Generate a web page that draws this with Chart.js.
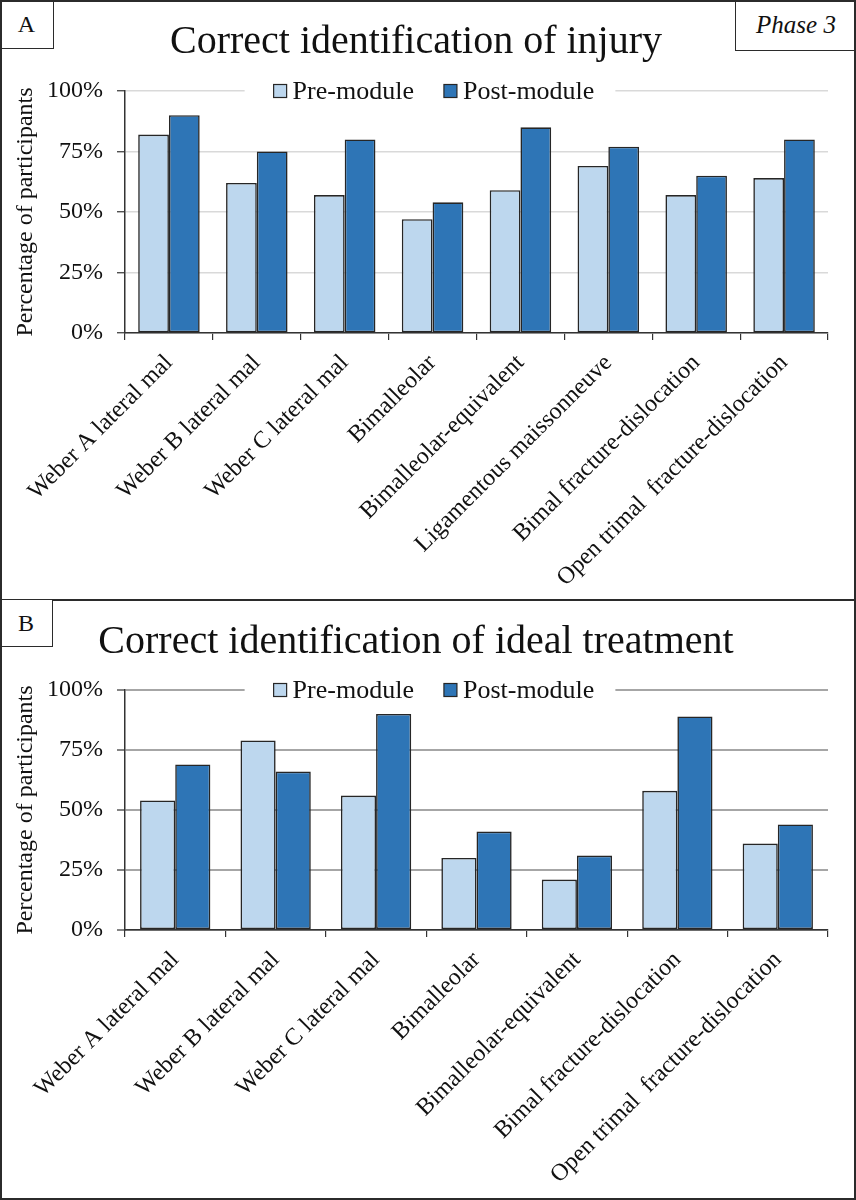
<!DOCTYPE html>
<html>
<head>
<meta charset="utf-8">
<script src="https://cdn.jsdelivr.net/npm/chart.js@4.4.1/dist/chart.umd.min.js"></script>
<style>
  html, body { margin: 0; padding: 0; background: #fff; }
  #page { position: relative; width: 856px; height: 1200px; overflow: hidden; font-family: "Liberation Serif", "Times New Roman", serif; }
  canvas { position: absolute; left: 0; }
  #cA { top: 0; }
  #cB { top: 600px; }
  .frame { position: absolute; box-sizing: border-box; border: 2px solid #2b2b2b; pointer-events: none; }
  .tag { position: absolute; box-sizing: border-box; border: 1px solid #2b2b2b; background: #fff;
         display: flex; align-items: center; justify-content: center; font-size: 24px; color: #111; }
</style>
</head>
<body>
<div id="page">
  <canvas id="cA" width="856" height="600"></canvas>
  <canvas id="cB" width="856" height="600"></canvas>
  <div class="frame" style="left:0;top:0;width:856px;height:601px"></div>
  <div class="frame" style="left:0;top:599px;width:856px;height:601px"></div>
  <div class="tag" style="left:0;top:0;width:54px;height:49px;border-width:0 1px 1px 0">A</div>
  <div class="tag" style="left:735px;top:0;width:121px;height:51px;border-width:0 0 1px 1px;font-style:italic;font-size:25px">Phase 3</div>
  <div class="tag" style="left:0;top:600px;width:53px;height:47px;border-width:0 1px 1px 0">B</div>
  <div class="frame" style="left:0;top:0;width:856px;height:1200px"></div>
</div>
<script>
// data
const injuryCats = ["Weber A lateral mal", "Weber B lateral mal", "Weber C lateral mal", "Bimalleolar",
  "Bimalleolar-equivalent", "Ligamentous maissonneuve", "Bimal fracture-dislocation", "Open trimal  fracture-dislocation"];
const injuryPre  = [82, 62, 57, 47, 59, 69, 57, 64];
const injuryPost = [90, 75, 80, 54, 85, 77, 65, 80];

const treatCats = ["Weber A lateral mal", "Weber B lateral mal", "Weber C lateral mal", "Bimalleolar",
  "Bimalleolar-equivalent", "Bimal fracture-dislocation", "Open trimal  fracture-dislocation"];
const treatPre  = [54, 79, 56, 30, 21, 58, 36];
const treatPost = [69, 66, 90, 41, 31, 89, 44];

const yTicks = [0, 25, 50, 75, 100];
const seriesNames = ["Pre-module", "Post-module"];

const FONT = '"Liberation Serif", "Times New Roman", serif';
const PRE_COLOR = "#bdd7ee";
const POST_COLOR = "#2e75b6";
const EDGE = "#262626";

// legend sits on the 100% line, with a white patch that breaks the gridline
const innerLegend = {
  id: "innerLegend",
  afterDatasetsDraw(chart) {
    const ctx = chart.ctx;
    const y = chart.chartArea.top;
    const box = 13, gap = 6, sep = 30;
    ctx.save();
    ctx.font = "26px " + FONT;
    const items = chart.data.datasets.map(ds => ({
      text: ds.label, color: ds.backgroundColor,
      w: box + gap + ctx.measureText(ds.label).width
    }));
    const total = items.reduce((s, it) => s + it.w, 0) + sep * (items.length - 1);
    let x = chart.width / 2 + 6 - total / 2;
    ctx.fillStyle = "#fff";
    ctx.fillRect(x - 29, y - 14, total + 50, 28);
    ctx.textBaseline = "middle";
    items.forEach(it => {
      ctx.fillStyle = it.color;
      ctx.fillRect(x, y - box / 2, box, box);
      ctx.strokeStyle = EDGE;
      ctx.lineWidth = 1.2;
      ctx.strokeRect(x, y - box / 2, box, box);
      ctx.fillStyle = "#111";
      ctx.fillText(it.text, x + box + gap, y + 1);
      x += it.w + sep;
    });
    ctx.restore();
  }
};

function buildPanel(id, title, cats, pre, post, opt) {
  const el = document.getElementById(id);
  return new Chart(el, {
    type: "bar",
    data: {
      labels: cats,
      datasets: [
        { label: seriesNames[0], data: pre, backgroundColor: PRE_COLOR, borderColor: EDGE, borderWidth: 1.6, borderSkipped: false },
        { label: seriesNames[1], data: post, backgroundColor: POST_COLOR, borderColor: EDGE, borderWidth: 1.6, borderSkipped: false }
      ]
    },
    options: {
      responsive: false,
      animation: false,
      datasets: { bar: { categoryPercentage: 0.7, barPercentage: 1.0 } },
      layout: { padding: { left: 4, right: 28, top: 0, bottom: 0 } },
      plugins: {
        legend: { display: false },
        tooltip: { enabled: false },
        title: {
          display: true, text: title, color: "#111",
          font: { family: FONT, size: 40, weight: "normal" },
          padding: { top: opt.titleTop, bottom: opt.titleBottom }
        }
      },
      scales: {
        x: {
          afterFit: s => { s.height = opt.xHeight; },
          grid: { offset: true, drawOnChartArea: false, color: "#333", tickLength: 7, lineWidth: 1.2 },
          border: { color: "#333", width: 1.5 },
          ticks: { color: "#111", font: { family: FONT, size: 24 }, maxRotation: 45, minRotation: 45, autoSkip: false, padding: 9 }
        },
        y: {
          min: 0, max: 100,
          afterFit: s => { s.width = 121; },
          afterBuildTicks: s => { s.ticks = yTicks.map(v => ({ value: v })); },
          grid: { color: opt.gridColor, lineWidth: opt.gridWidth, tickLength: 8, tickColor: "#333", tickWidth: 1.2 },
          border: { color: "#333", width: 1.5 },
          ticks: { color: "#111", font: { family: FONT, size: 24 }, padding: 14, callback: v => v + "%" },
          title: { display: true, text: "Percentage of participants", color: "#111",
                   font: { family: FONT, size: 24 }, padding: { top: 7, bottom: 0 } }
        }
      }
    },
    plugins: [innerLegend]
  });
}

buildPanel("cA", "Correct identification of injury", injuryCats, injuryPre, injuryPost,
  { titleTop: 18, titleBottom: 25, xHeight: 267, gridColor: "#d9d9d9", gridWidth: 1.5 });
buildPanel("cB", "Correct identification of ideal treatment", treatCats, treatPre, treatPost,
  { titleTop: 18, titleBottom: 24, xHeight: 270, gridColor: "#a6a6a6", gridWidth: 2 });
</script>
</body>
</html>
